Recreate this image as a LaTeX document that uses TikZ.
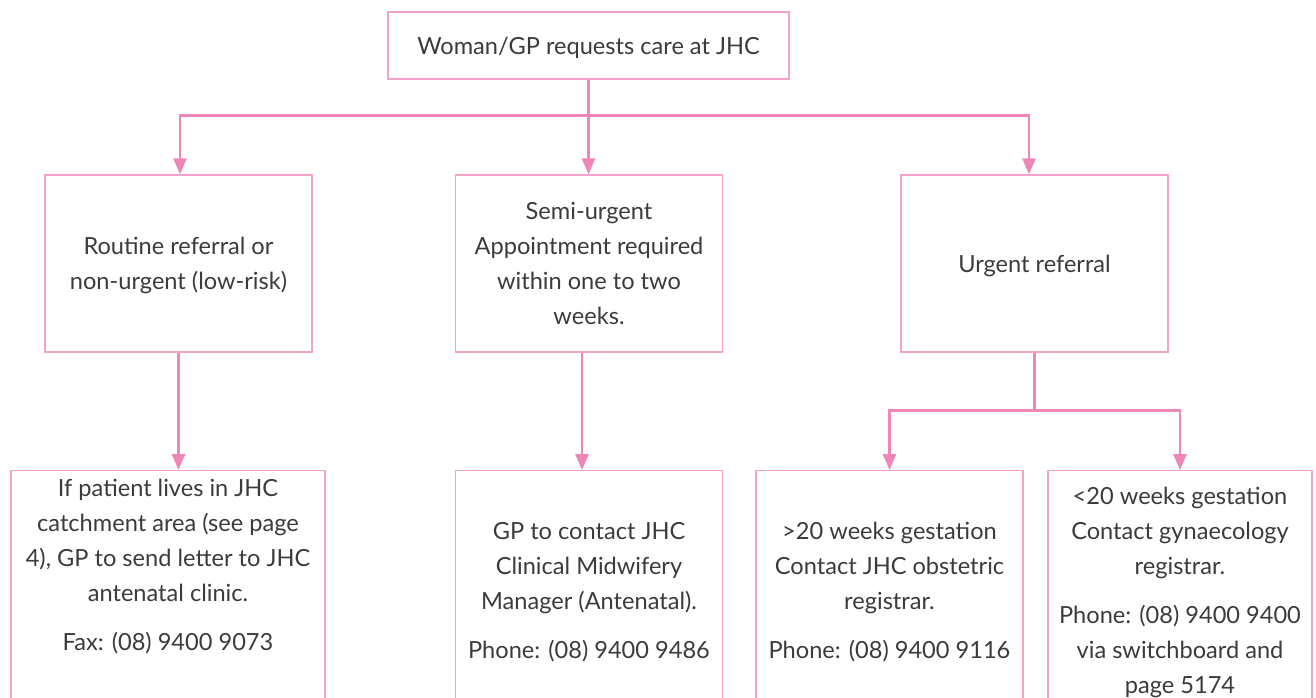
\documentclass[tikz,border=0pt]{standalone}
\usepackage{fontspec}
\setmainfont{Lato}
\usetikzlibrary{positioning,arrows.meta}

\definecolor{pinkline}{HTML}{EE86B7}
\definecolor{pinkbox}{HTML}{F3A2C9}
\definecolor{darktext}{HTML}{3B3B3B}

\tikzset{
  box/.style={draw=pinkbox,line width=1.4pt,rectangle,minimum width=267pt,minimum height=177pt,inner sep=0pt,align=center,text depth=0pt,text=darktext,font=\fontsize{23.6}{35}\selectfont},
  txt/.style={inner sep=0pt,align=center,text=darktext,font=\fontsize{23.6}{35}\selectfont},
  link/.style={draw=pinkline,line width=2.7pt,-{Triangle[width=13pt,length=16pt]}}
}

\begin{document}
\begin{tikzpicture}[x=1pt,y=-1pt]

\useasboundingbox (0,0) rectangle (1316,697);
\clip (0,0) rectangle (1316,697);

\node[box,minimum width=401pt,minimum height=67pt] (request) at (588.5,45.5) {Woman/GP requests care at JHC};

\node[box] (routine) at (178.5,263.5) {Routine referral or\\non-urgent (low-risk)};
\node[box] (semi) at (589,263.5) {Semi-urgent\\Appointment required\\within one to two\\weeks.};
\node[box] (urgent) at (1034.5,263.5) {Urgent referral};

\node[box,minimum width=314pt,minimum height=245pt,anchor=north] (letter) at (168,470) {};
\node[box,minimum height=245pt,anchor=north] (midwife) at (589,470) {};
\node[box,minimum height=245pt,anchor=north] (obstetric) at (889.5,470) {};
\node[box,minimum width=264pt,minimum height=245pt,anchor=north] (gynae) at (1180,470) {};

\node[txt,below=9pt of letter.north] (lettertext) {If patient lives in JHC\\catchment area (see page\\4), GP to send letter to JHC\\antenatal clinic.\\[14pt]Fax: (08) 9400 9073};
\node[txt,below=52pt of midwife.north] (midwifetext) {GP to contact JHC\\Clinical Midwifery\\Manager (Antenatal).\\[14pt]Phone: (08) 9400 9486};
\node[txt,below=52pt of obstetric.north] (obstetrictext) {>20 weeks gestation\\Contact JHC obstetric\\registrar.\\[14pt]Phone: (08) 9400 9116};
\node[txt,below=17pt of gynae.north] (gynaetext) {<20 weeks gestation\\Contact gynaecology\\registrar.\\[14pt]Phone: (08) 9400 9400\\via switchboard and\\page 5174};

% first level
\draw[link] (request.south) -- ++(0,36) -| ([xshift=1.5pt]routine.north);
\draw[link] (request.south) -- (semi.north -| request.south);
\draw[link] (request.south) -- ++(0,36) -| ([xshift=-5.5pt]urgent.north);

% second level
\draw[link] (routine.south) -- (letter.north -| routine.south);
\draw[link] ([xshift=-7pt]semi.south) -- ([xshift=-7pt]midwife.north);
\draw[link] (urgent.south) -- ++(0,58) -| (obstetric.north);
\draw[link] (urgent.south) -- ++(0,58) -| (gynae.north);

\end{tikzpicture}
\end{document}
